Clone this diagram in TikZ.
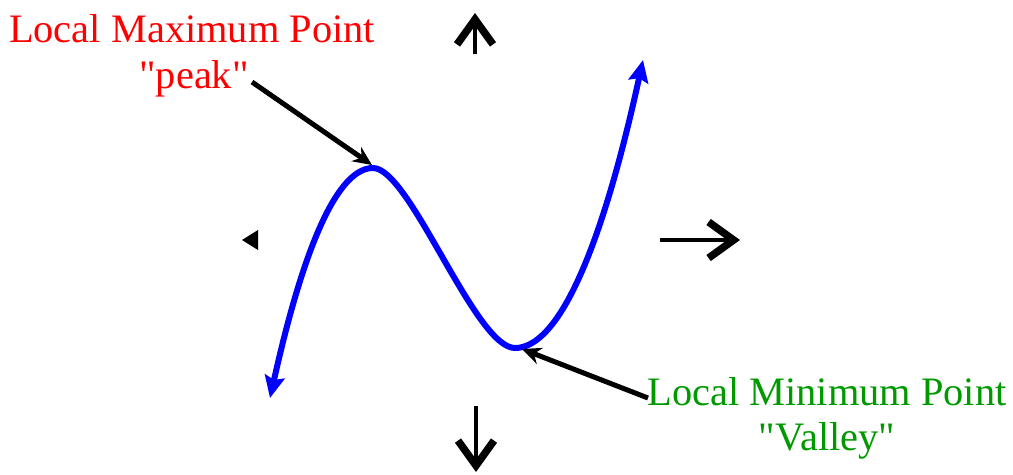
\documentclass[tikz,border=0pt]{standalone}
\usepackage{fontspec}
\setmainfont{Liberation Serif}
\usetikzlibrary{arrows.meta}
\definecolor{maxred}{RGB}{255,0,0}
\definecolor{mingreen}{RGB}{0,153,0}
\definecolor{curveblue}{RGB}{0,0,255}
\tikzset{
  lbl/.style={anchor=base,inner sep=0pt,font=\fontsize{23}{27}\selectfont},
  pointer/.style={line width=0.1cm,-{Stealth[length=0.38cm,width=0.34cm]}},
  axisarrow/.style={line width=0.09cm,-{Straight Barb[length=0.5cm,width=0.72cm,line width=0.15cm]}},
  graph/.style={curveblue,line width=0.12cm,
    {Stealth[length=0.44cm,width=0.4cm,inset=0.07cm]}-{Stealth[length=0.44cm,width=0.4cm,inset=0.07cm]}}
}
\begin{document}
\begin{tikzpicture}[x=0.02cm,y=-0.02cm]
\useasboundingbox (0,0) rectangle (1013,474);
% axes
\draw[axisarrow] (475,54) -- (475,13);
\draw[axisarrow] (476,406) -- (476,472);
\draw[axisarrow] (660,240) -- (740,240);
\fill (258,230) -- (242,240) -- (258,250) -- cycle;
% curve
\coordinate (lowend) at (270,398);
\coordinate (peak) at (373,168);
\coordinate (valley) at (515,348);
\coordinate (highend) at (643,60);
\draw[graph] (lowend) .. controls (304,245) and (338,168) .. (peak)
  .. controls (410,168) and (475,348) .. (valley)
  .. controls (558,348) and (601,252) .. (highend);
% labels
\node[lbl,maxred] (maxlbl) at (192,42) {Local Maximum Point};
\node[lbl,maxred] (maxsub) at (194,88) {\textquotedbl peak\textquotedbl};
\node[lbl,mingreen] (minlbl) at (827,405) {Local Minimum Point};
\node[lbl,mingreen] (minsub) at (827,450) {\textquotedbl Valley\textquotedbl};
\coordinate (maxtail) at (252,82);
\coordinate (maxtip) at (372,165);
\coordinate (mintail) at (648,398);
\coordinate (mintip) at (522,349);
\draw[pointer] (maxtail) -- (maxtip);
\draw[pointer] (mintail) -- (mintip);
\end{tikzpicture}
\end{document}
